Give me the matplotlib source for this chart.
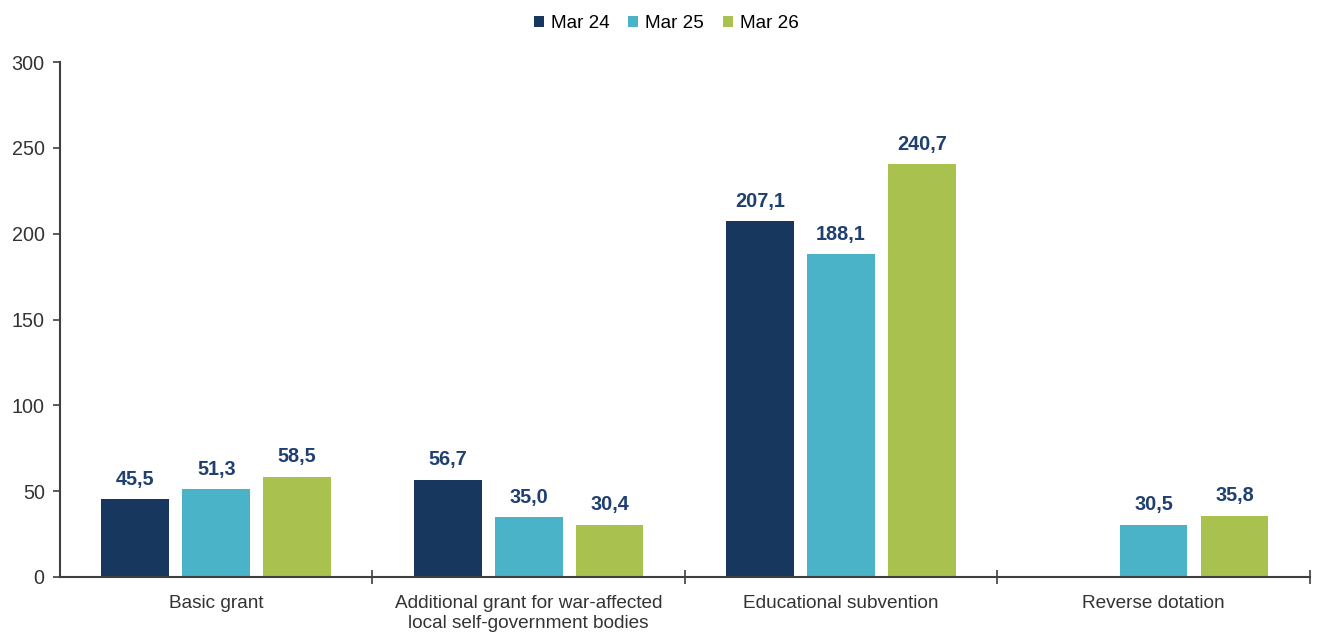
import numpy as np
import matplotlib.pyplot as plt
from matplotlib.ticker import FixedLocator, NullFormatter

plt.rcParams['font.family'] = ['Liberation Sans', 'DejaVu Sans']

categories = ["Basic grant",
              "Additional grant for war-affected\nlocal self-government bodies",
              "Educational subvention",
              "Reverse dotation"]
series_names = ["Mar 24", "Mar 25", "Mar 26"]
mar24 = [45.5, 56.7, 207.1, np.nan]
mar25 = [51.3, 35.0, 188.1, 30.5]
mar26 = [58.5, 30.4, 240.7, 35.8]
y_ticks = [0, 50, 100, 150, 200, 250, 300]

colors = ["#17375E", "#4BB3C8", "#A9C24F"]
label_color = "#1F4070"
axis_color = "#404040"

fig = plt.figure(figsize=(13.19, 6.33), dpi=100)
ax = fig.add_axes([0.0455, 0.0885, 0.9475, 0.8135])

x = np.arange(len(categories))
width = 0.217
step = 0.259
for i, (name, vals, c) in enumerate(zip(series_names, [mar24, mar25, mar26], colors)):
    pos = x + (i - 1) * step
    ax.bar(pos, vals, width, color=c, label=name, zorder=2)
    for p, v in zip(pos, vals):
        if np.isnan(v):
            continue
        ax.text(p, v + 6, f"{v:.1f}".replace(".", ","), ha="center", va="bottom",
                fontsize=14.3, fontweight="bold", color=label_color)

ax.set_xlim(-0.5, 3.5)
ax.set_ylim(0, 300)
ax.set_yticks(y_ticks)
ax.tick_params(axis="y", direction="out", length=5, width=1.2, colors=axis_color,
               labelsize=14.2, labelcolor="#333333", pad=6)

# category names sit between the boundary ticks
ax.xaxis.set_major_locator(FixedLocator([0.5, 1.5, 2.5, 3.5]))
ax.xaxis.set_major_formatter(NullFormatter())
ax.tick_params(axis="x", which="major", direction="inout", length=10, width=1.2,
               colors=axis_color)
ax.xaxis.set_minor_locator(FixedLocator(x))
ax.set_xticklabels(categories, minor=True, linespacing=1.2)
ax.tick_params(axis="x", which="minor", length=0, labelsize=13.7,
               labelcolor="#333333", pad=13)

for s in ["top", "right"]:
    ax.spines[s].set_visible(False)
for s in ["left", "bottom"]:
    ax.spines[s].set_color(axis_color)
    ax.spines[s].set_linewidth(1.5)

fig.legend(loc="upper center", bbox_to_anchor=(0.505, 1.003), ncol=3, frameon=False,
           fontsize=13.6, handlelength=0.55, handleheight=0.55, handletextpad=0.35,
           columnspacing=1.0)

fig.savefig("out.png", dpi=100, facecolor="white")
